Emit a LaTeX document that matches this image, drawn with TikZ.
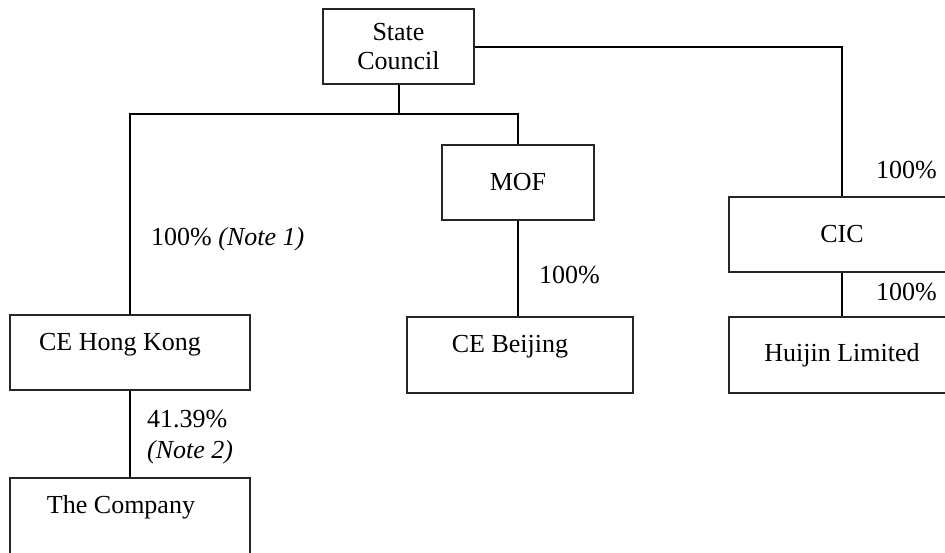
\documentclass[tikz,border=0pt]{standalone}
\usepackage{fontspec}
\setmainfont{Liberation Serif}
\begin{document}
\begin{tikzpicture}[x=1pt,y=-1pt,
 box/.style={draw=black!85, line width=1.2pt, inner sep=0pt, minimum height=75pt},
 topbox/.style={box, text height=35pt, text depth=40pt},
 conn/.style={line width=1.6pt},
 lbl/.style={inner sep=0pt, anchor=base west},
 font=\fontsize{26}{29}\selectfont]
\useasboundingbox (0,0) rectangle (945,552);
\clip (0,0) rectangle (945,552);
\node[box, align=center, minimum width=151pt] (sc) at (398.5,46.5) {State\\Council};
\node[box, minimum width=152pt] (mof) at (518,182.5) {MOF};
\node[box, minimum width=226pt] (cic) at (842,234.5) {CIC};
\node[box, minimum width=226pt, minimum height=76pt] (hj) at (842,355) {Huijin Limited};
\node[topbox, minimum width=240pt] (hk) at (130,352.5) {CE Hong Kong\rule{20pt}{0pt}};
\node[topbox, text depth=45pt, minimum width=240pt] (co) at (130,518) {The Company\rule{18pt}{0pt}};
\node[topbox, text depth=41pt, minimum width=226pt] (ceb) at (520,355) {CE Beijing\rule{20pt}{0pt}};
\coordinate (bus) at (399,114);
\coordinate (scr) at ([yshift=-0.5pt]sc.east);
% connectors
\draw[conn] (sc.south -| bus) -- (bus);
\draw[conn] (hk.north) -- (hk.north |- bus) -- (mof.north |- bus) -- (mof.north);
\draw[conn] (scr) -- (cic.north |- scr) -- (cic.north);
\draw[conn] (mof.south) -- (mof.south |- ceb.north);
\draw[conn] (cic.south) -- (hj.north);
\draw[conn] (hk.south) -- (co.north);
% labels
\node[lbl] (l1) at (151,245) {100\% \textit{(Note 1)}};
\node[lbl] (l2) at (539,283) {100\%};
\node[lbl] (l3) at (876,178) {100\%};
\node[lbl] (l4) at (876,300) {100\%};
\node[lbl] (l5) at (147,427) {41.39\%};
\node[lbl] (l6) at (147,458) {\textit{(Note 2)}};
\end{tikzpicture}
\end{document}
